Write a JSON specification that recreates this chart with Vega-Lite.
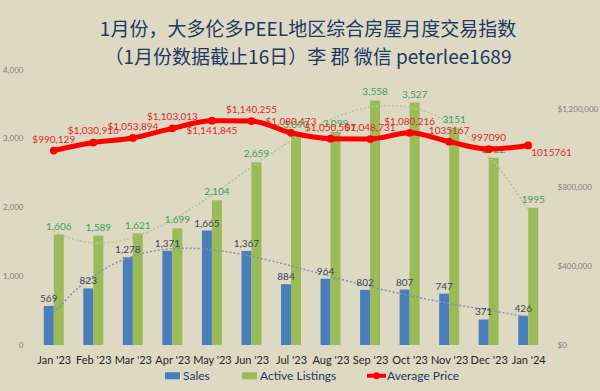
{
  "$schema": "https://vega.github.io/schema/vega-lite/v6.json",
  "autosize": {"type": "none"},
  "width": 524,
  "height": 275,
  "padding": {"left": 29, "top": 70, "right": 47, "bottom": 46},
  "background": "#DDD9C3",
  "config": {"view": {"stroke": null}, "font": "Lato"},
  "title": {
    "text": ["1月份，大多伦多PEEL地区综合房屋月度交易指数", "（1月份数据截止16日）李 郡 微信 peterlee1689"],
    "font": "Noto Sans CJK SC",
    "fontSize": 19,
    "fontWeight": "normal",
    "color": "#1F3864",
    "anchor": "middle",
    "dx": 17,
    "offset": -2,
    "lineHeight": 28
  },
  "datasets": {
    "months": [
      {"idx": 0, "month": "Jan '23", "sales": 569, "listings": 1606, "price": 990129, "salesLabel": "569", "listLabel": "1,606", "priceLabel": "$990,129"},
      {"idx": 1, "month": "Feb '23", "sales": 823, "listings": 1589, "price": 1030916, "salesLabel": "823", "listLabel": "1,589", "priceLabel": "$1,030,916"},
      {"idx": 2, "month": "Mar '23", "sales": 1278, "listings": 1621, "price": 1053894, "salesLabel": "1,278", "listLabel": "1,621", "priceLabel": "$1,053,894"},
      {"idx": 3, "month": "Apr '23", "sales": 1371, "listings": 1699, "price": 1103013, "salesLabel": "1,371", "listLabel": "1,699", "priceLabel": "$1,103,013"},
      {"idx": 4, "month": "May '23", "sales": 1665, "listings": 2104, "price": 1141845, "salesLabel": "1,665", "listLabel": "2,104", "priceLabel": "$1,141,845"},
      {"idx": 5, "month": "Jun '23", "sales": 1367, "listings": 2659, "price": 1140255, "salesLabel": "1,367", "listLabel": "2,659", "priceLabel": "$1,140,255"},
      {"idx": 6, "month": "Jul '23", "sales": 884, "listings": 3090, "price": 1080473, "salesLabel": "884", "listLabel": "3,090", "priceLabel": "$1,080,473"},
      {"idx": 7, "month": "Aug '23", "sales": 964, "listings": 3099, "price": 1050507, "salesLabel": "964", "listLabel": "3,099", "priceLabel": "$1,050,507"},
      {"idx": 8, "month": "Sep '23", "sales": 802, "listings": 3558, "price": 1048731, "salesLabel": "802", "listLabel": "3,558", "priceLabel": "$1,048,731"},
      {"idx": 9, "month": "Oct '23", "sales": 807, "listings": 3527, "price": 1080216, "salesLabel": "807", "listLabel": "3,527", "priceLabel": "$1,080,216"},
      {"idx": 10, "month": "Nov '23", "sales": 747, "listings": 3151, "price": 1035167, "salesLabel": "747", "listLabel": "3151", "priceLabel": "1035167"},
      {"idx": 11, "month": "Dec '23", "sales": 371, "listings": 2722, "price": 997090, "salesLabel": "371", "listLabel": "2722", "priceLabel": "997090"},
      {"idx": 12, "month": "Jan '24", "sales": 426, "listings": 1995, "price": 1015761, "salesLabel": "426", "listLabel": "1995", "priceLabel": "1015761"}
    ],
    "series": [
      {"series": "Sales"},
      {"series": "Active Listings"},
      {"series": "Average Price"}
    ]
  },
  "data": {"name": "months"},
  "encoding": {
    "x": {
      "field": "idx",
      "type": "quantitative",
      "scale": {"domain": [-0.5, 12.5], "nice": false, "zero": false},
      "axis": {
        "title": null,
        "values": [0, 1, 2, 3, 4, 5, 6, 7, 8, 9, 10, 11, 12],
        "labelExpr": "[\"Jan '23\",\"Feb '23\",\"Mar '23\",\"Apr '23\",\"May '23\",\"Jun '23\",\"Jul '23\",\"Aug '23\",\"Sep '23\",\"Oct '23\",\"Nov '23\",\"Dec '23\",\"Jan '24\"][datum.value]",
        "grid": false,
        "domain": false,
        "ticks": false,
        "labelFont": "Lato",
        "labelFontSize": 11,
        "labelColor": "#262626",
        "labelPadding": 9,
        "labelFlush": false,
        "labelOverlap": false
      }
    }
  },
  "layer": [
    {
      "layer": [
        {
          "mark": {"type": "bar", "width": 10, "xOffset": -5, "color": "#4A7EBB"},
          "encoding": {
            "y": {
              "field": "sales",
              "type": "quantitative",
              "scale": {"domain": [0, 4000], "nice": false},
              "axis": {
                "title": null,
                "values": [0, 500, 1000, 1500, 2000, 2500, 3000, 3500, 4000],
                "format": ",.0f",
                "grid": false,
                "domain": false,
                "ticks": false,
                "labelFont": "Lato",
                "labelFontSize": 8,
                "labelColor": "#7F7F7F",
                "labelPadding": 6
              }
            }
          }
        },
        {
          "mark": {"type": "bar", "width": 10, "xOffset": 5, "color": "#9BBB59"},
          "encoding": {"y": {"field": "listings", "type": "quantitative"}}
        },
        {
          "transform": [{"regression": "sales", "on": "idx", "method": "poly", "order": 4, "extent": [0, 12]}],
          "mark": {"type": "line", "color": "#7E93AD", "strokeWidth": 1.5, "strokeDash": [2, 2]},
          "encoding": {"y": {"field": "sales", "type": "quantitative"}}
        },
        {
          "transform": [{"regression": "listings", "on": "idx", "method": "poly", "order": 4, "extent": [0, 12]}],
          "mark": {"type": "line", "color": "#B3C98A", "strokeWidth": 1.5, "strokeDash": [2, 2]},
          "encoding": {"y": {"field": "listings", "type": "quantitative"}}
        },
        {
          "mark": {"type": "text", "xOffset": -5, "dy": -7, "fontSize": 10, "color": "#3A4556", "font": "Lato"},
          "encoding": {"y": {"field": "sales", "type": "quantitative"}, "text": {"field": "salesLabel"}}
        },
        {
          "mark": {"type": "text", "xOffset": 5, "dy": -8, "fontSize": 10, "color": "#3E9E5A", "font": "Lato"},
          "encoding": {"y": {"field": "listings", "type": "quantitative"}, "text": {"field": "listLabel"}}
        }
      ]
    },
    {
      "layer": [
        {
          "mark": {"type": "line", "color": "#FF0000", "strokeWidth": 5, "interpolate": "monotone"},
          "encoding": {
            "y": {
              "field": "price",
              "type": "quantitative",
              "scale": {"domain": [0, 1400000], "nice": false},
              "axis": {
                "orient": "right",
                "title": null,
                "values": [0, 200000, 400000, 600000, 800000, 1000000, 1200000, 1400000],
                "format": "$,.0f",
                "grid": false,
                "domain": false,
                "ticks": false,
                "labelFont": "Lato",
                "labelFontSize": 8,
                "labelColor": "#7F7F7F",
                "labelPadding": 4
              }
            }
          }
        },
        {
          "mark": {"type": "point", "filled": true, "color": "#FF0000", "size": 60, "opacity": 1},
          "encoding": {"y": {"field": "price", "type": "quantitative"}}
        },
        {
          "transform": [{"filter": "datum.idx != 4 && datum.idx != 12"}],
          "mark": {"type": "text", "dy": -11, "fontSize": 10, "color": "#E0282A", "font": "Lato"},
          "encoding": {"y": {"field": "price", "type": "quantitative"}, "text": {"field": "priceLabel"}}
        },
        {
          "transform": [{"filter": "datum.idx == 4"}],
          "mark": {"type": "text", "dy": 10, "fontSize": 10, "color": "#E0282A", "font": "Lato"},
          "encoding": {"y": {"field": "price", "type": "quantitative"}, "text": {"field": "priceLabel"}}
        },
        {
          "transform": [{"filter": "datum.idx == 12"}],
          "mark": {"type": "text", "dy": 8, "dx": 3, "align": "left", "fontSize": 10, "color": "#E0282A", "font": "Lato"},
          "encoding": {"y": {"field": "price", "type": "quantitative"}, "text": {"field": "priceLabel"}}
        }
      ]
    },
    {
      "data": {"name": "series"},
      "mark": {"type": "point", "filled": true, "opacity": 0},
      "encoding": {
        "x": {"value": 0},
        "y": {"value": 0},
        "color": {
          "field": "series",
          "type": "nominal",
          "scale": {"domain": ["Sales", "Active Listings", "Average Price"], "range": ["#4A7EBB", "#9BBB59", "#FF0000"]},
          "legend": {
            "title": null,
            "orient": "none",
            "direction": "horizontal",
            "legendX": 134,
            "legendY": 296,
            "symbolSize": 361,
            "symbolOpacity": 1,
            "symbolStrokeWidth": 0,
            "labelFont": "Lato",
            "labelFontSize": 12,
            "labelColor": "#1F3864",
            "labelOffset": 1,
            "columnPadding": 30
          }
        },
        "shape": {
          "field": "series",
          "type": "nominal",
          "scale": {
            "domain": ["Sales", "Active Listings", "Average Price"],
            "range": ["M-0.79,-0.37H0.79V0.37H-0.79Z", "M-0.79,-0.37H0.79V0.37H-0.79Z", "M-1,-0.2H1V0.2H-1Z M0.38,0 A0.38,0.38 0 1,1 -0.38,0 A0.38,0.38 0 1,1 0.38,0Z"]
          },
          "legend": null
        }
      }
    }
  ],
  "resolve": {"scale": {"y": "independent"}}
}
